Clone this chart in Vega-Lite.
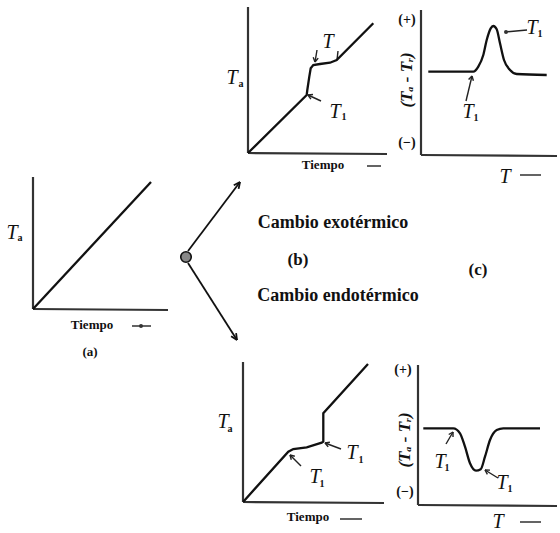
{
  "$schema": "https://vega.github.io/schema/vega-lite/v6.json",
  "width": 560,
  "height": 533,
  "autosize": {"type": "fit", "contains": "padding"},
  "padding": 0,
  "background": "white",
  "config": {"view": {"stroke": null}},
  "datasets": {
    "axes": [
      {"x": 33, "y": 177, "x2": 33, "y2": 309},
      {"x": 33, "y": 309, "x2": 168, "y2": 310},
      {"x": 248, "y": 7, "x2": 248, "y2": 153},
      {"x": 248, "y": 153, "x2": 387, "y2": 154},
      {"x": 421, "y": 10, "x2": 421, "y2": 155},
      {"x": 421, "y": 155, "x2": 557, "y2": 156},
      {"x": 243, "y": 362, "x2": 243, "y2": 502},
      {"x": 243, "y": 502, "x2": 384, "y2": 503},
      {"x": 418, "y": 365, "x2": 418, "y2": 505},
      {"x": 418, "y": 505, "x2": 557, "y2": 506}
    ],
    "bigArrows": [
      {"x": 188, "y": 251, "x2": 240, "y2": 182},
      {"x": 233.8, "y": 185.3, "x2": 240, "y2": 182},
      {"x": 238.6, "y": 188.9, "x2": 240, "y2": 182},
      {"x": 188, "y": 263, "x2": 237, "y2": 340},
      {"x": 236.1, "y": 333.1, "x2": 237, "y2": 340},
      {"x": 231.1, "y": 336.3, "x2": 237, "y2": 340}
    ],
    "leaders": [
      {"x": 321, "y": 101, "x2": 308, "y2": 95},
      {"x": 310.9, "y": 99.1, "x2": 308, "y2": 95},
      {"x": 313, "y": 94.5, "x2": 308, "y2": 95},
      {"x": 317, "y": 50, "x2": 315, "y2": 62},
      {"x": 318.2, "y": 58.1, "x2": 315, "y2": 62},
      {"x": 313.2, "y": 57.3, "x2": 315, "y2": 62},
      {"x": 338, "y": 51, "x2": 337, "y2": 60},
      {"x": 527, "y": 30, "x2": 505, "y2": 32},
      {"x": 466, "y": 101, "x2": 472, "y2": 76},
      {"x": 468.6, "y": 79.6, "x2": 472, "y2": 76},
      {"x": 473.4, "y": 80.8, "x2": 472, "y2": 76},
      {"x": 301, "y": 466, "x2": 290, "y2": 455},
      {"x": 291.3, "y": 459.8, "x2": 290, "y2": 455},
      {"x": 294.8, "y": 456.3, "x2": 290, "y2": 455},
      {"x": 341, "y": 449, "x2": 325, "y2": 443},
      {"x": 328.2, "y": 446.9, "x2": 325, "y2": 443},
      {"x": 329.9, "y": 442.2, "x2": 325, "y2": 443},
      {"x": 446, "y": 444, "x2": 453, "y2": 432},
      {"x": 448.7, "y": 434.5, "x2": 453, "y2": 432},
      {"x": 453, "y": 437, "x2": 453, "y2": 432},
      {"x": 498, "y": 478, "x2": 485, "y2": 470},
      {"x": 487.4, "y": 474.4, "x2": 485, "y2": 470},
      {"x": 490, "y": 470.1, "x2": 485, "y2": 470},
      {"x": 132, "y": 326, "x2": 151, "y2": 326},
      {"x": 367, "y": 166, "x2": 381, "y2": 166},
      {"x": 520, "y": 175, "x2": 541, "y2": 175},
      {"x": 340, "y": 519, "x2": 362, "y2": 519},
      {"x": 520, "y": 522, "x2": 541, "y2": 522}
    ],
    "kinked": [
      {"c": "a", "o": 1, "x": 33, "y": 309},
      {"c": "a", "o": 2, "x": 151, "y": 182},
      {"c": "b1", "o": 1, "x": 248, "y": 153},
      {"c": "b1", "o": 2, "x": 306.7, "y": 95},
      {"c": "b1", "o": 3, "x": 307.3, "y": 90},
      {"c": "b1", "o": 4, "x": 309.3, "y": 76.7},
      {"c": "b1", "o": 5, "x": 310.7, "y": 68.3},
      {"c": "b1", "o": 6, "x": 313.3, "y": 65},
      {"c": "b1", "o": 7, "x": 320, "y": 64},
      {"c": "b1", "o": 8, "x": 330, "y": 62.7},
      {"c": "b1", "o": 9, "x": 336.7, "y": 60},
      {"c": "b1", "o": 10, "x": 373.3, "y": 23.3},
      {"c": "b2", "o": 1, "x": 243.3, "y": 501.7},
      {"c": "b2", "o": 2, "x": 288.3, "y": 451.7},
      {"c": "b2", "o": 3, "x": 293.3, "y": 449},
      {"c": "b2", "o": 4, "x": 306.7, "y": 447.3},
      {"c": "b2", "o": 5, "x": 321.7, "y": 442.7},
      {"c": "b2", "o": 6, "x": 323.3, "y": 441.7},
      {"c": "b2", "o": 7, "x": 323.3, "y": 413.3},
      {"c": "b2", "o": 8, "x": 368, "y": 364}
    ],
    "smooth": [
      {"c": "c1", "o": 1, "x": 428.3, "y": 71.7},
      {"c": "c1", "o": 2, "x": 473.3, "y": 71.7},
      {"c": "c1", "o": 3, "x": 478.3, "y": 66.7},
      {"c": "c1", "o": 4, "x": 483.3, "y": 55},
      {"c": "c1", "o": 5, "x": 486.7, "y": 40},
      {"c": "c1", "o": 6, "x": 490.7, "y": 28.3},
      {"c": "c1", "o": 7, "x": 493.3, "y": 26},
      {"c": "c1", "o": 8, "x": 496.7, "y": 29.3},
      {"c": "c1", "o": 9, "x": 500, "y": 43.3},
      {"c": "c1", "o": 10, "x": 504, "y": 60},
      {"c": "c1", "o": 11, "x": 510, "y": 70},
      {"c": "c1", "o": 12, "x": 516.7, "y": 74},
      {"c": "c1", "o": 13, "x": 546.7, "y": 75},
      {"c": "c2", "o": 1, "x": 423.3, "y": 428.3},
      {"c": "c2", "o": 2, "x": 453.3, "y": 428.3},
      {"c": "c2", "o": 3, "x": 460, "y": 433.3},
      {"c": "c2", "o": 4, "x": 465, "y": 446.7},
      {"c": "c2", "o": 5, "x": 470, "y": 463.3},
      {"c": "c2", "o": 6, "x": 476, "y": 470.7},
      {"c": "c2", "o": 7, "x": 480.7, "y": 469.3},
      {"c": "c2", "o": 8, "x": 485, "y": 456.7},
      {"c": "c2", "o": 9, "x": 490, "y": 440},
      {"c": "c2", "o": 10, "x": 496.7, "y": 430},
      {"c": "c2", "o": 11, "x": 503.3, "y": 428.3},
      {"c": "c2", "o": 12, "x": 540, "y": 428.3}
    ],
    "node": [{"x": 186, "y": 257}],
    "dots": [{"x": 141, "y": 326}, {"x": 506, "y": 32}],
    "bigT": [
      {"x": 12, "y": 233, "t": "T"},
      {"x": 232, "y": 78, "t": "T"},
      {"x": 328, "y": 42, "t": "T"},
      {"x": 335, "y": 112, "t": "T"},
      {"x": 532, "y": 28, "t": "T"},
      {"x": 468, "y": 112, "t": "T"},
      {"x": 505, "y": 177, "t": "T"},
      {"x": 223, "y": 422, "t": "T"},
      {"x": 315, "y": 477, "t": "T"},
      {"x": 352, "y": 453, "t": "T"},
      {"x": 440, "y": 462, "t": "T"},
      {"x": 502, "y": 483, "t": "T"},
      {"x": 498, "y": 522, "t": "T"}
    ],
    "subs": [
      {"x": 20, "y": 238, "t": "a"},
      {"x": 241, "y": 84, "t": "a"},
      {"x": 344, "y": 117, "t": "1"},
      {"x": 540, "y": 34, "t": "1"},
      {"x": 476, "y": 118, "t": "1"},
      {"x": 230, "y": 429, "t": "a"},
      {"x": 322, "y": 484, "t": "1"},
      {"x": 361, "y": 460, "t": "1"},
      {"x": 447, "y": 468, "t": "1"},
      {"x": 510, "y": 489, "t": "1"}
    ],
    "words": [
      {"x": 92, "y": 325, "t": "Tiempo"},
      {"x": 323, "y": 165, "t": "Tiempo"},
      {"x": 308, "y": 517, "t": "Tiempo"},
      {"x": 90, "y": 352, "t": "(a)"}
    ],
    "captions": [
      {"x": 333, "y": 223, "t": "Cambio exotérmico"},
      {"x": 338, "y": 296, "t": "Cambio endotérmico"}
    ],
    "panels": [
      {"x": 298, "y": 260, "t": "(b)"},
      {"x": 478, "y": 270, "t": "(c)"}
    ],
    "signs": [
      {"x": 407, "y": 20, "t": "(+)"},
      {"x": 407, "y": 143, "t": "(−)"},
      {"x": 403, "y": 370, "t": "(+)"},
      {"x": 405, "y": 492, "t": "(−)"}
    ],
    "rot": [
      {"x": 407, "y": 80, "t": "(Tₐ - Tᵣ)"},
      {"x": 405, "y": 440, "t": "(Tₐ - Tᵣ)"}
    ]
  },
  "encoding": {
    "x": {"field": "x", "type": "quantitative", "scale": {"domain": [0, 560], "nice": false, "zero": false}, "axis": null},
    "y": {"field": "y", "type": "quantitative", "scale": {"domain": [0, 533], "nice": false, "zero": false, "reverse": true}, "axis": null}
  },
  "layer": [
    {
      "data": {"name": "axes"},
      "mark": {"type": "rule", "stroke": "#333", "strokeWidth": 2.2},
      "encoding": {"x2": {"field": "x2"}, "y2": {"field": "y2"}}
    },
    {
      "data": {"name": "bigArrows"},
      "mark": {"type": "rule", "stroke": "#111", "strokeWidth": 1.8},
      "encoding": {"x2": {"field": "x2"}, "y2": {"field": "y2"}}
    },
    {
      "data": {"name": "leaders"},
      "mark": {"type": "rule", "stroke": "#222", "strokeWidth": 1.4},
      "encoding": {"x2": {"field": "x2"}, "y2": {"field": "y2"}}
    },
    {
      "data": {"name": "kinked"},
      "mark": {"type": "line", "stroke": "#111", "strokeWidth": 2.3, "interpolate": "linear"},
      "encoding": {"detail": {"field": "c"}, "order": {"field": "o", "type": "quantitative"}}
    },
    {
      "data": {"name": "smooth"},
      "mark": {"type": "line", "stroke": "#111", "strokeWidth": 2.3, "interpolate": "monotone"},
      "encoding": {"detail": {"field": "c"}, "order": {"field": "o", "type": "quantitative"}}
    },
    {
      "data": {"name": "node"},
      "mark": {"type": "point", "shape": "circle", "size": 110, "filled": true, "fill": "#888", "stroke": "#111", "strokeWidth": 1.6, "opacity": 1}
    },
    {
      "data": {"name": "dots"},
      "mark": {"type": "point", "shape": "circle", "size": 16, "filled": true, "fill": "#333", "opacity": 1}
    },
    {
      "data": {"name": "bigT"},
      "mark": {"type": "text", "font": "Liberation Serif", "fontStyle": "italic", "fontSize": 20, "align": "center", "baseline": "middle", "color": "#111"},
      "encoding": {"text": {"field": "t"}}
    },
    {
      "data": {"name": "subs"},
      "mark": {"type": "text", "font": "Liberation Serif", "fontWeight": "bold", "fontSize": 10, "align": "center", "baseline": "middle", "color": "#111"},
      "encoding": {"text": {"field": "t"}}
    },
    {
      "data": {"name": "words"},
      "mark": {"type": "text", "font": "Liberation Serif", "fontWeight": "bold", "fontSize": 13, "align": "center", "baseline": "middle", "color": "#111"},
      "encoding": {"text": {"field": "t"}}
    },
    {
      "data": {"name": "captions"},
      "mark": {"type": "text", "font": "Liberation Serif", "fontWeight": "bold", "fontSize": 18, "align": "center", "baseline": "middle", "color": "#111"},
      "encoding": {"text": {"field": "t"}}
    },
    {
      "data": {"name": "panels"},
      "mark": {"type": "text", "font": "Liberation Serif", "fontWeight": "bold", "fontSize": 17, "align": "center", "baseline": "middle", "color": "#111"},
      "encoding": {"text": {"field": "t"}}
    },
    {
      "data": {"name": "signs"},
      "mark": {"type": "text", "font": "Liberation Serif", "fontWeight": "bold", "fontSize": 14, "align": "center", "baseline": "middle", "color": "#111"},
      "encoding": {"text": {"field": "t"}}
    },
    {
      "data": {"name": "rot"},
      "mark": {"type": "text", "font": "Liberation Serif", "fontStyle": "italic", "fontWeight": "bold", "fontSize": 17, "angle": 270, "align": "center", "baseline": "middle", "color": "#111"},
      "encoding": {"text": {"field": "t"}}
    }
  ]
}
